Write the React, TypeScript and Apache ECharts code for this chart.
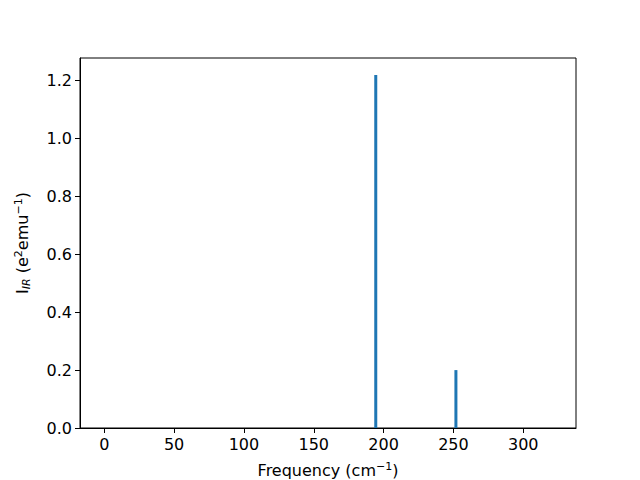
import React, { useEffect, useRef } from "react";
import * as echarts from "echarts";

const frequencies = [194.4, 251.8];
const intensities = [1.219, 0.2];
const xTicks = [0, 50, 100, 150, 200, 250, 300];
const yTicks = [0, 0.2, 0.4, 0.6, 0.8, 1.0, 1.2];

export default function App() {
  const ref = useRef<HTMLDivElement>(null);
  useEffect(() => {
    if (!ref.current) return;
    const chart = echarts.init(ref.current, undefined, { renderer: "svg" });
    const font = "DejaVu Sans";
    chart.setOption({
      animation: false,
      grid: {
        left: 80,
        right: 64,
        top: 58,
        bottom: 52,
        show: true,
        borderColor: "#000",
        borderWidth: 1,
        backgroundColor: "#fff",
        outerBoundsMode: "none",
        containLabel: false,
      },
      xAxis: {
        type: "value",
        min: -17.4,
        max: 337.8,
        name: "Frequency (cm{sup|−1}{n|)}",
        nameLocation: "middle",
        nameGap: 33,
        nameTextStyle: {
          fontFamily: font,
          fontSize: 16,
          color: "#000",
          rich: {
            sup: { fontSize: 11, verticalAlign: "top", fontFamily: font, color: "#000", padding: [0, 0, 8, 0] },
            n: { fontSize: 16, fontFamily: font, color: "#000" },
          },
        },
        axisLine: { show: true, onZero: false, lineStyle: { color: "#000", width: 1 } },
        axisTick: { show: true, length: 5, customValues: xTicks, lineStyle: { color: "#000" } },
        axisLabel: {
          customValues: xTicks,
          fontFamily: font,
          fontSize: 16,
          color: "#000",
          margin: 8,
        },
        splitLine: { show: false },
      },
      yAxis: {
        type: "value",
        min: 0,
        max: 1.278,
        name: "I{sub|IR}{n| (e}{sup|2}{n|emu}{sup|−1}{n|)}",
        nameLocation: "middle",
        nameGap: 48,
        nameRotate: 90,
        nameTextStyle: {
          fontFamily: font,
          fontSize: 16,
          color: "#000",
          rich: {
            sub: { fontSize: 11, fontStyle: "italic", fontFamily: font, color: "#000", verticalAlign: "bottom", padding: [6, 0, 0, 0] },
            sup: { fontSize: 11, fontFamily: font, color: "#000", verticalAlign: "top", padding: [0, 0, 8, 0] },
            n: { fontSize: 16, fontFamily: font, color: "#000" },
          },
        },
        axisLine: { show: true, onZero: false, lineStyle: { color: "#000", width: 1 } },
        axisTick: { show: true, length: 5, customValues: yTicks, lineStyle: { color: "#000" } },
        axisLabel: {
          customValues: yTicks,
          fontFamily: font,
          fontSize: 16,
          color: "#000",
          margin: 8,
          formatter: (v: number) => v.toFixed(1),
        },
        splitLine: { show: false },
      },
      series: [
        {
          type: "bar",
          barWidth: 3,
          data: frequencies.map((f, i) => [f, intensities[i]]),
          itemStyle: { color: "#1f77b4" },
        },
      ],
    });
    return () => chart.dispose();
  }, []);
  return <div ref={ref} style={{ width: 640, height: 480, position: "absolute", left: 0, top: 0 }} />;
}
